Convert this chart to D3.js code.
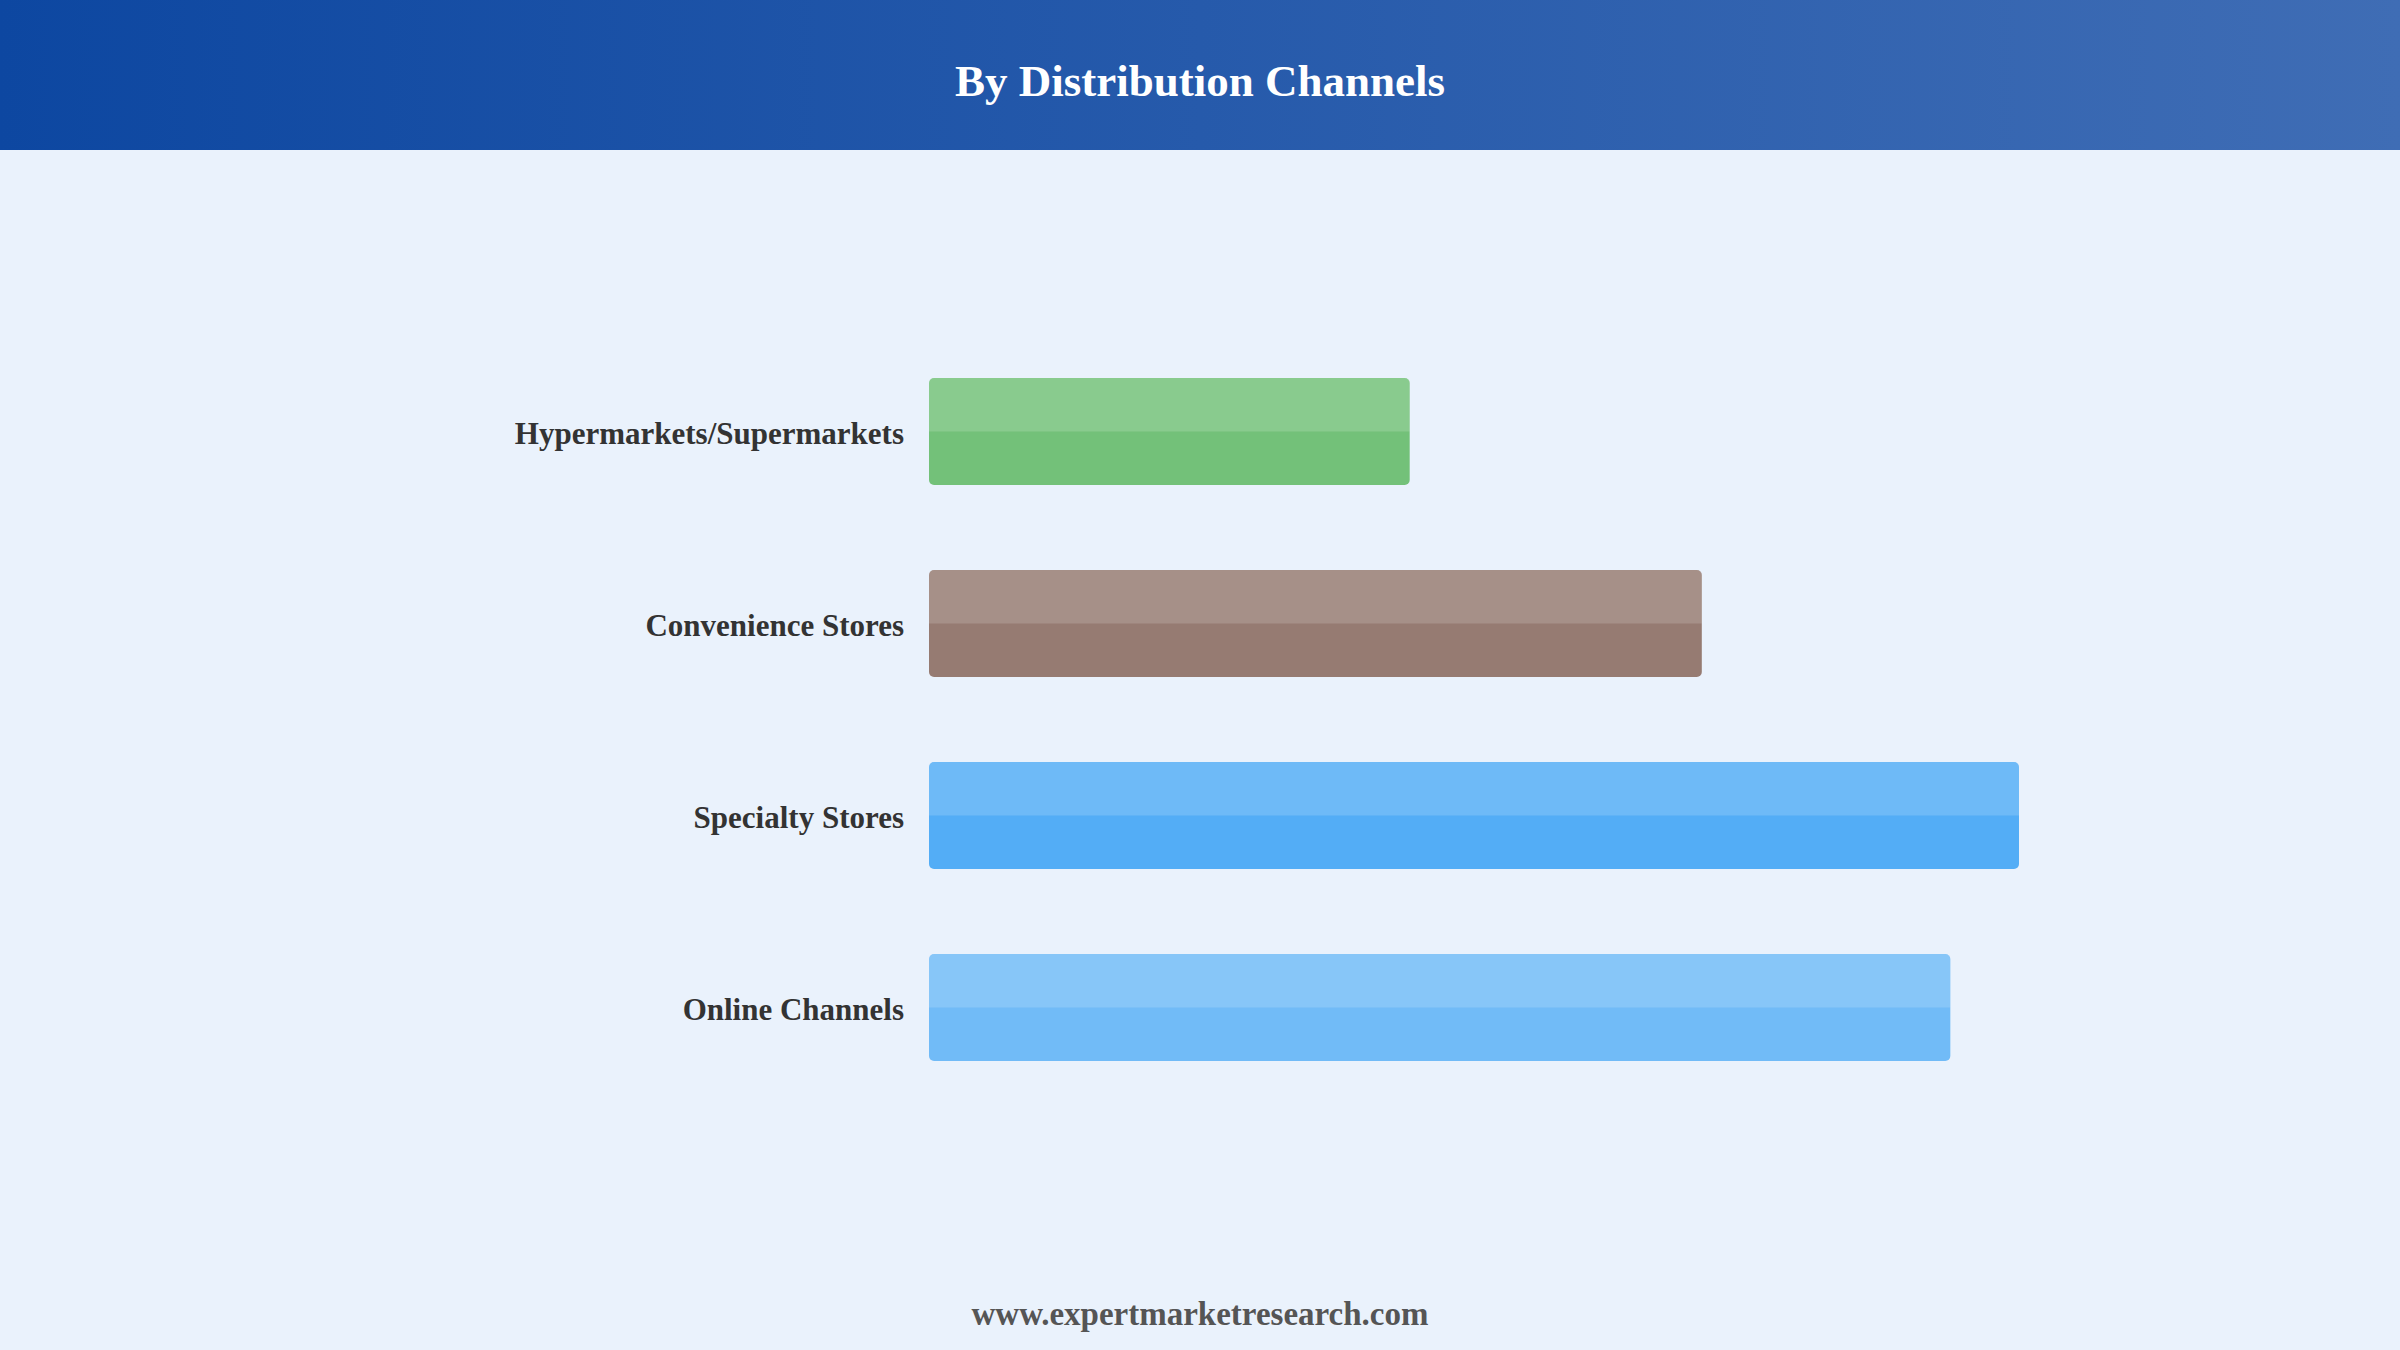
<!DOCTYPE html>
<html>
<head>
<meta charset="utf-8">
<script src="https://cdn.jsdelivr.net/npm/d3@7"></script>
<style>
  html, body { margin: 0; padding: 0; background: #eaf2fc; }
  svg { display: block; }
</style>
</head>
<body>
<div id="chart"></div>
<script>
// data (relative index, largest channel = 100)
var channels = ["Hypermarkets/Supermarkets", "Convenience Stores", "Specialty Stores", "Online Channels"];
var shares = [44.1, 70.9, 100, 93.7];
var barColors = ["#66bb6a", "#8d6e63", "#42a5f5", "#64b5f6"];

var W = 2400, H = 1350;
var margin = { top: 282, right: 381, bottom: 193, left: 929 };
var width = W - margin.left - margin.right;
var height = H - margin.top - margin.bottom;

var svg = d3.select("#chart").append("svg")
    .attr("width", W).attr("height", H);

var defs = svg.append("defs");
var grad = defs.append("linearGradient").attr("id", "hdr").attr("x1", "0%").attr("x2", "100%");
grad.append("stop").attr("offset", "0%").attr("stop-color", "#0d47a1");
grad.append("stop").attr("offset", "100%").attr("stop-color", "#3f6db5");

svg.append("rect").attr("width", W).attr("height", H).attr("fill", "#eaf2fc");
svg.append("rect").attr("width", W).attr("height", 150).attr("fill", "url(#hdr)");

svg.append("text")
    .attr("x", W / 2).attr("y", 96)
    .attr("text-anchor", "middle")
    .attr("font-family", "'Liberation Serif', 'Times New Roman', serif")
    .attr("font-weight", "bold").attr("font-size", 45)
    .attr("fill", "#fff")
    .text("By Distribution Channels");

var g = svg.append("g").attr("transform", "translate(" + margin.left + "," + margin.top + ")");

var xScale = d3.scaleLinear().domain([0, 100]).range([0, width]);
var yScale = d3.scaleBand().domain(channels).range([0, height]).paddingInner(0.443).paddingOuter(0.5);

var rows = g.selectAll(".bar").data(channels).enter().append("g")
    .attr("class", "bar")
    .attr("transform", function (d) { return "translate(0," + yScale(d) + ")"; });

rows.append("rect")
    .attr("width", function (d, i) { return xScale(shares[i]); })
    .attr("height", yScale.bandwidth())
    .attr("rx", 5).attr("ry", 5)
    .attr("fill", function (d, i) { return barColors[i]; })
    .attr("fill-opacity", 0.9);

// lighter top half
rows.append("path")
    .attr("d", function (d, i) {
        var w = xScale(shares[i]), h = yScale.bandwidth() / 2, r = 5;
        return "M0," + h + "V" + r + "Q0,0 " + r + ",0H" + (w - r) + "Q" + w + ",0 " + w + "," + r + "V" + h + "Z";
    })
    .attr("fill", "#fff").attr("fill-opacity", 0.16);

var yAxis = d3.axisLeft(yScale).tickSize(0).tickPadding(25);
g.append("g").call(yAxis)
    .call(function (a) { a.select(".domain").remove(); })
    .selectAll("text")
    .attr("dy", "0.4em")
    .attr("font-family", "'Liberation Serif', 'Times New Roman', serif")
    .attr("font-weight", "bold").attr("font-size", 31)
    .attr("fill", "#333");

svg.append("text")
    .attr("x", W / 2).attr("y", 1325)
    .attr("text-anchor", "middle")
    .attr("font-family", "'Liberation Serif', 'Times New Roman', serif")
    .attr("font-weight", "bold").attr("font-size", 33)
    .attr("fill", "#555")
    .text("www.expertmarketresearch.com");
</script>
</body>
</html>
